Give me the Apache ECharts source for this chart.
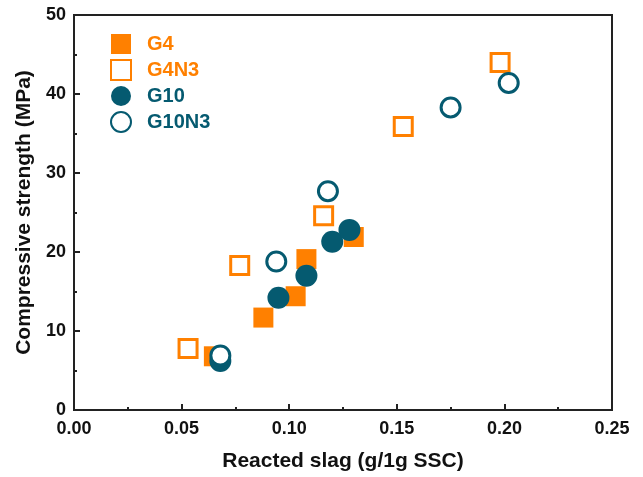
<!DOCTYPE html>
<html><head><meta charset="utf-8">
<script src="https://cdn.jsdelivr.net/npm/echarts@6/dist/echarts.min.js"></script>
<style>html,body{margin:0;padding:0;background:#fff}#c{width:643px;height:477px}</style>
</head><body><div id="c"></div>
<script>
const seriesNames = ['G4', 'G4N3', 'G10', 'G10N3'];
const g4 = [[0.065, 6.8], [0.088, 11.7], [0.103, 14.4], [0.108, 19.1], [0.130, 21.9]];
const g4n3 = [[0.053, 7.8], [0.077, 18.3], [0.116, 24.6], [0.153, 35.9], [0.198, 44.0]];
const g10 = [[0.068, 6.2], [0.095, 14.2], [0.108, 17.0], [0.120, 21.3], [0.128, 22.8]];
const g10n3 = [[0.068, 6.9], [0.094, 18.8], [0.118, 27.7], [0.175, 38.3], [0.202, 41.4]];
const orange = '#FF8000', teal = '#055A70';
const font = '"Liberation Sans", Arial, sans-serif';
const chart = echarts.init(document.getElementById('c'));
function mk(name, data, shape, filled, color, size) {
  return {
    name, type: 'scatter', data, symbol: shape, symbolSize: size,
    itemStyle: filled ? {color: color, opacity: 1} : {color: '#fff', borderColor: color, borderWidth: 3, opacity: 1},
    emphasis: {disabled: true}
  };
}
chart.setOption({
  animation: false,
  backgroundColor: '#fff',
  grid: {left: 74, top: 15, right: 31, bottom: 65, show: true, borderColor: '#222', borderWidth: 2, backgroundColor: 'transparent'},
  legend: {
    left: 105, top: 29, orient: 'vertical', itemWidth: 20, itemHeight: 20, itemGap: 5,
    textStyle: {fontFamily: font, fontWeight: 'bold', fontSize: 20, padding: [0, 0, 0, 11]},
    data: [
      {name: 'G4', textStyle: {color: orange}},
      {name: 'G4N3', textStyle: {color: orange}},
      {name: 'G10', textStyle: {color: teal}},
      {name: 'G10N3', textStyle: {color: teal}}
    ]
  },
  xAxis: {
    type: 'value', min: 0, max: 0.25, interval: 0.05,
    name: 'Reacted slag (g/1g SSC)', nameLocation: 'middle', nameGap: 41,
    nameTextStyle: {fontFamily: font, fontWeight: 'bold', fontSize: 21, color: '#111'},
    axisLine: {show: true, lineStyle: {color: '#222', width: 2}},
    axisTick: {show: true, inside: true, length: 6, lineStyle: {color: '#222', width: 2}},
    minorTick: {show: true, splitNumber: 2, length: 3, lineStyle: {color: '#222', width: 2}},
    splitLine: {show: false},
    axisLabel: {fontFamily: font, fontWeight: 'bold', fontSize: 18, color: '#111', margin: 10,
      formatter: v => v.toFixed(2)}
  },
  yAxis: {
    type: 'value', min: 0, max: 50, interval: 10,
    name: 'Compressive strength (MPa)', nameLocation: 'middle', nameGap: 37,
    nameTextStyle: {fontFamily: font, fontWeight: 'bold', fontSize: 21, color: '#111'},
    axisLine: {show: true, lineStyle: {color: '#222', width: 2}},
    axisTick: {show: true, inside: true, length: 6, lineStyle: {color: '#222', width: 2}},
    minorTick: {show: true, splitNumber: 2, length: 3, lineStyle: {color: '#222', width: 2}},
    splitLine: {show: false},
    axisLabel: {fontFamily: font, fontWeight: 'bold', fontSize: 18, color: '#111', margin: 8}
  },
  series: [
    mk(seriesNames[0], g4, 'rect', true, orange, 20),
    mk(seriesNames[1], g4n3, 'rect', false, orange, 18),
    mk(seriesNames[2], g10, 'circle', true, teal, 22),
    mk(seriesNames[3], g10n3, 'circle', false, teal, 19)
  ]
});
</script></body></html>
